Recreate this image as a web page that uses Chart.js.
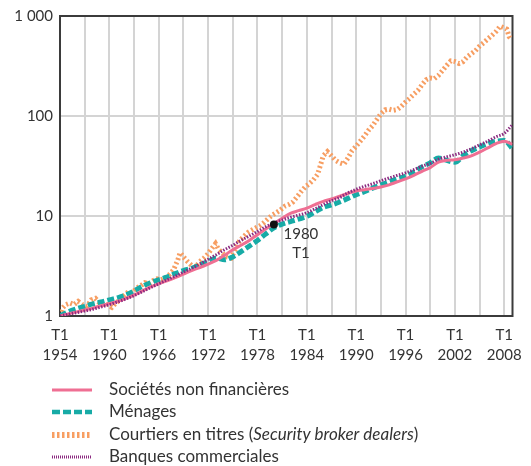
<!DOCTYPE html>
<html>
<head>
<meta charset="utf-8">
<script src="https://cdn.jsdelivr.net/npm/chart.js@4"></script>
<style>
  html, body { margin: 0; padding: 0; background: #fff; }
</style>
</head>
<body>
<canvas id="chart" width="531" height="466"></canvas>
<script>
// Annual series (Q1 of each year, 1954 -> 2009), index 1954 = 1
const years = [];
for (let y = 1954; y <= 2009; y++) years.push(y);

const societes = [1.0, 1.05, 1.1, 1.15, 1.2, 1.27, 1.33, 1.4, 1.5, 1.62,
  1.78, 1.95, 2.1, 2.25, 2.42, 2.62, 2.85, 3.05, 3.3, 3.6,
  4.05, 4.6, 5.1, 5.7, 6.5, 7.4, 8.4, 9.5, 10.6, 11.3,
  12.0, 13.0, 14.0, 14.8, 15.8, 16.8, 17.8, 18.3, 18.8, 19.5,
  20.5, 22, 23.5, 25.5, 28, 30.5, 34.5, 36, 36.5, 38,
  40, 43.5, 48, 53, 56, 52];

const menages = [1.0, 1.1, 1.18, 1.25, 1.32, 1.38, 1.45, 1.52, 1.62, 1.78,
  1.98, 2.15, 2.3, 2.45, 2.65, 2.85, 3.0, 3.25, 3.5, 3.8,
  3.65, 3.9, 4.4, 5.0, 5.7, 6.6, 7.6, 8.3, 8.8, 9.3,
  9.9, 11.0, 12.2, 12.9, 13.8, 15.0, 16.3, 17.5, 19.0, 20.5,
  22.0, 23.5, 25, 27.5, 31, 34, 38, 36, 34.5, 40,
  45, 49, 53, 56, 57, 47];

const banques = [1.0, 1.04, 1.08, 1.12, 1.17, 1.23, 1.3, 1.38, 1.48, 1.6,
  1.75, 1.92, 2.1, 2.3, 2.5, 2.75, 3.0, 3.3, 3.7, 4.1,
  4.6, 5.1, 5.7, 6.3, 7.0, 7.8, 8.5, 9.1, 9.7, 10.2,
  10.8, 11.8, 13.0, 14.2, 15.3, 17.0, 18.5, 19.8, 21.0, 22.5,
  24, 25.5, 27, 29, 31.5, 33.5, 37, 39, 41, 43.5,
  47, 51.5, 56, 62, 67, 82];

// Security broker dealers: more jagged, read at finer dates
const courtiersYears = [1954.0, 1954.3, 1954.7, 1955.2, 1955.7, 1956.2, 1956.7, 1957.3, 1957.8, 1958.3,
  1958.8, 1959.3, 1959.8, 1960.3, 1960.8, 1961.3, 1961.8, 1962.3, 1962.8, 1963.3,
  1963.8, 1964.3, 1964.8, 1965.3, 1965.8, 1966.3, 1966.8, 1967.3, 1967.8, 1968.3,
  1968.6, 1969.0, 1969.5, 1970.0, 1970.5, 1971.0, 1971.5, 1972.0, 1972.5, 1972.9,
  1973.3, 1973.8, 1974.3, 1974.8, 1975.3, 1975.8, 1976.3, 1976.8, 1977.3, 1977.8,
  1978.3, 1978.8, 1979.3, 1979.8, 1980.3, 1980.8, 1981.3, 1981.8, 1982.3, 1982.8,
  1983.3, 1983.8, 1984.3, 1984.8, 1985.3, 1985.7, 1986.0, 1986.5, 1987.0, 1987.5,
  1988.0, 1988.5, 1989.0, 1989.5, 1990.0, 1990.5, 1991.0, 1991.5, 1992.0, 1992.5,
  1993.0, 1993.5, 1994.0, 1994.5, 1995.0, 1995.5, 1996.0, 1996.5, 1997.0, 1997.5,
  1998.0, 1998.5, 1999.0, 1999.5, 2000.0, 2000.5, 2001.0, 2001.5, 2002.0, 2002.5,
  2003.0, 2003.5, 2004.0, 2004.5, 2005.0, 2005.5, 2006.0, 2006.5, 2007.0, 2007.5,
  2008.0, 2008.3, 2008.6, 2008.9];
const courtiers = [1.0, 1.2, 1.3, 1.35, 1.3, 1.4, 1.3, 1.25, 1.45, 1.5,
  1.35, 1.3, 1.3, 1.22, 1.35, 1.45, 1.6, 1.75, 1.7, 1.9,
  2.0, 2.15, 2.1, 2.25, 2.35, 2.3, 2.4, 2.6, 2.9, 3.6,
  4.3, 3.9, 3.5, 3.2, 3.1, 3.5, 3.8, 4.2, 4.8, 5.3,
  4.6, 4.2, 3.9, 3.8, 4.6, 5.6, 6.2, 6.8, 7.2, 7.6,
  8.0, 8.6, 9.4, 10.2, 10.8, 11.5, 12.5, 13.0, 13.8, 15.5,
  17.5, 19.5, 21, 23, 26, 33, 40, 44, 40, 36,
  34, 33, 38, 45, 50, 56, 63, 72, 80, 92,
  105, 115, 117, 114, 116, 125, 138, 150, 165, 180,
  205, 230, 240, 236, 255, 285, 320, 355, 350, 335,
  350, 390, 420, 450, 500, 540, 590, 640, 700, 790,
  760, 740, 620, 580];

const yTicks = [1, 10, 100, 1000];
const yTickLabels = ['1', '10', '100', '1 000'];
const gridYears = [];
for (let y = 1954; y <= 2008; y += 3) gridYears.push(y);
const labelYears = [1954, 1960, 1966, 1972, 1978, 1984, 1990, 1996, 2002, 2008];

const markerPoint = { x: 1980, y: 8.2, label: ['1980', 'T1'] };

const colors = {
  societes: '#ef6f93',
  menages: '#17aba6',
  courtiers: '#f79e62',
  banques: '#8b2a80'
};

const FONT = 'Lato, "Open Sans", sans-serif';
const TEXT = '#333333';

function toPoints(xs, ys) {
  return xs.map((x, i) => ({ x: x, y: ys[i] }));
}

const overlay = {
  id: 'overlay',
  beforeDatasetsDraw(chart) {
    const { ctx, chartArea: a } = chart;
    ctx.save();
    ctx.strokeStyle = '#3b3b3b';
    ctx.lineWidth = 2;
    ctx.strokeRect(a.left, a.top, a.right - a.left, a.bottom - a.top);
    ctx.restore();
  },
  afterDraw(chart) {
    const { ctx, scales: { x, y } } = chart;
    ctx.save();
    // 1980 T1 marker
    const px = x.getPixelForValue(markerPoint.x);
    const py = y.getPixelForValue(markerPoint.y);
    ctx.fillStyle = '#111';
    ctx.beginPath();
    ctx.arc(px, py, 4, 0, Math.PI * 2);
    ctx.fill();
    ctx.fillStyle = TEXT;
    ctx.font = '15px ' + FONT;
    ctx.textAlign = 'center';
    ctx.textBaseline = 'middle';
    ctx.fillText(markerPoint.label[0], px + 27, py + 10);
    ctx.fillText(markerPoint.label[1], px + 27, py + 29);

    // legend
    const rows = [
      { color: colors.societes, width: 3, dash: [] },
      { color: colors.menages, width: 4.5, dash: [8, 3] },
      { color: colors.courtiers, width: 6, dash: [2.5, 2.5] },
      { color: colors.banques, width: 3, dash: [1, 1] }
    ];
    const rowY = [390, 412, 435, 457];
    rows.forEach((r, i) => {
      ctx.beginPath();
      ctx.setLineDash(r.dash);
      ctx.strokeStyle = r.color;
      ctx.lineWidth = r.width;
      ctx.moveTo(52, rowY[i]);
      ctx.lineTo(92, rowY[i]);
      ctx.stroke();
    });
    ctx.setLineDash([]);
    ctx.textAlign = 'left';
    ctx.fillStyle = TEXT;
    const lf = '17px ' + FONT;
    ctx.font = lf;
    ctx.fillText('Sociétés non financières', 109, rowY[0]);
    ctx.fillText('Ménages', 109, rowY[1]);
    let tx = 109;
    const parts = [['Courtiers en titres (', ''], ['Security broker dealers', 'italic '], [')', '']];
    parts.forEach(p => {
      ctx.font = p[1] + lf;
      ctx.fillText(p[0], tx, rowY[2]);
      tx += ctx.measureText(p[0]).width;
    });
    ctx.font = lf;
    ctx.fillText('Banques commerciales', 109, rowY[3]);
    ctx.restore();
  }
};

new Chart(document.getElementById('chart'), {
  type: 'line',
  data: {
    datasets: [
      {
        label: 'Banques commerciales',
        data: toPoints(years, banques),
        borderColor: colors.banques,
        borderWidth: 3,
        borderDash: [1.5, 1.5],
        cubicInterpolationMode: 'monotone',
        order: 0
      },
      {
        label: 'Sociétés non financières',
        data: toPoints(years, societes),
        borderColor: colors.societes,
        borderWidth: 3,
        cubicInterpolationMode: 'monotone',
        order: 1
      },
      {
        label: 'Ménages',
        data: toPoints(years, menages),
        borderColor: colors.menages,
        borderWidth: 5,
        borderDash: [7, 3],
        cubicInterpolationMode: 'monotone',
        order: 2
      },
      {
        label: 'Courtiers en titres (Security broker dealers)',
        data: toPoints(courtiersYears, courtiers),
        borderColor: colors.courtiers,
        borderWidth: 5,
        borderDash: [2, 2.5],
        tension: 0,
        order: 3
      }
    ]
  },
  options: {
    responsive: false,
    animation: false,
    devicePixelRatio: 1,
    layout: { padding: { left: 0, right: 18, top: 14, bottom: 0 } },
    elements: { point: { radius: 0 } },
    plugins: { legend: { display: false }, tooltip: { enabled: false } },
    scales: {
      x: {
        type: 'linear',
        min: 1954,
        max: 2009,
        border: { display: false },
        grid: { color: '#d4d4d4', lineWidth: 2, drawTicks: false },
        afterBuildTicks: s => { s.ticks = gridYears.map(v => ({ value: v })); },
        afterFit: s => { s.height = 150; },
        ticks: {
          autoSkip: false,
          maxRotation: 0,
          padding: 9,
          color: TEXT,
          font: { family: FONT, size: 15, lineHeight: 1.33 },
          callback: v => labelYears.includes(v) ? ['T1', String(v)] : ''
        }
      },
      y: {
        type: 'logarithmic',
        min: 1,
        max: 1000,
        border: { display: false },
        grid: { color: '#d4d4d4', lineWidth: 2, drawTicks: false },
        afterBuildTicks: s => { s.ticks = yTicks.map(v => ({ value: v })); },
        afterFit: s => { s.width = 60; },
        ticks: {
          padding: 7,
          color: TEXT,
          font: { family: FONT, size: 15 },
          callback: v => {
            const i = yTicks.indexOf(v);
            return i >= 0 ? yTickLabels[i] : '';
          }
        }
      }
    }
  },
  plugins: [overlay]
});
</script>
</body>
</html>
